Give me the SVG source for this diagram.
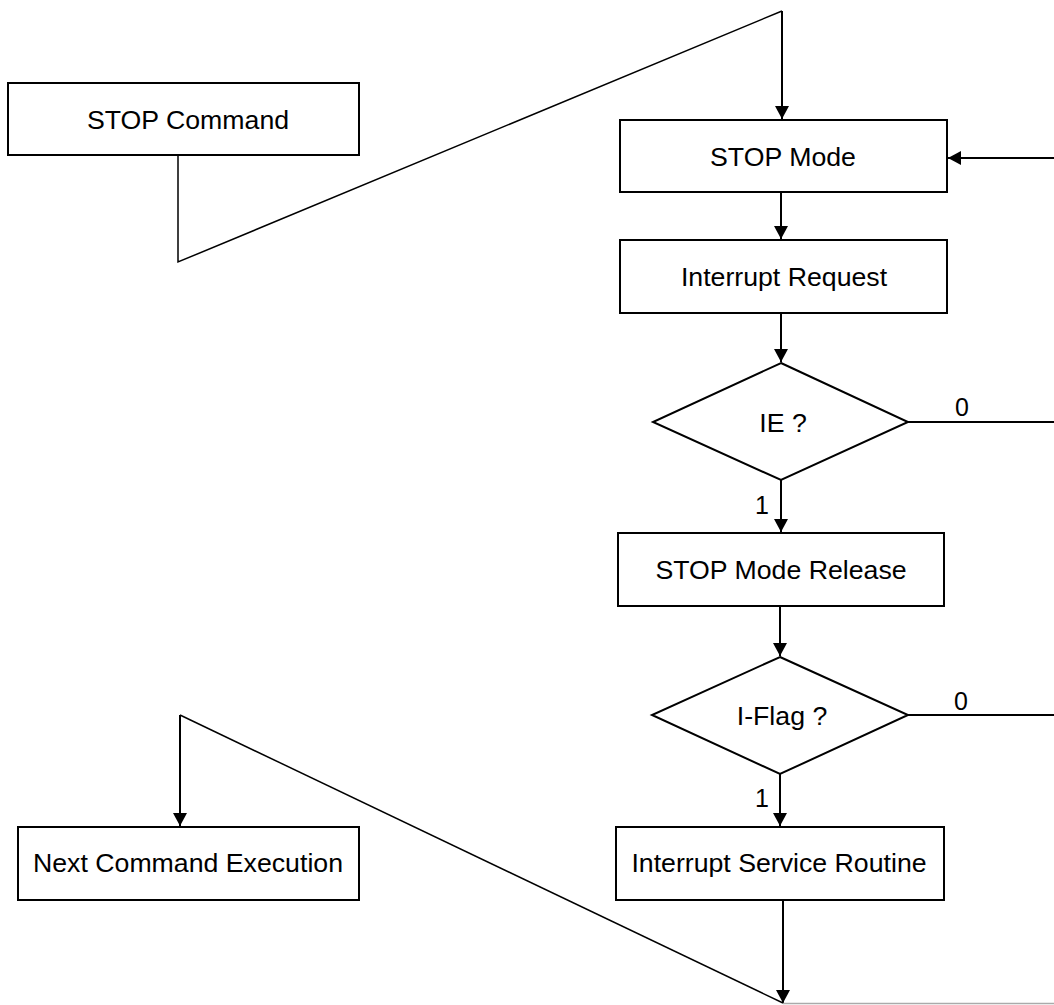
<svg xmlns="http://www.w3.org/2000/svg" width="1054" height="1005" viewBox="0 0 1054 1005">
<style>
.box{fill:#fff;stroke:#000;stroke-width:2}
.lbl{font-family:"Liberation Sans",Arial,sans-serif;font-size:26.7px;fill:#000;text-anchor:middle}
.sm{font-family:"Liberation Sans",Arial,sans-serif;font-size:25px;fill:#000;text-anchor:middle}
.ln{fill:none;stroke:#000;stroke-width:2}
.thin{fill:none;stroke:#000;stroke-width:1.5}
</style>
<defs>
<marker id="ah" markerWidth="16" markerHeight="14" refX="13" refY="7" orient="auto" markerUnits="userSpaceOnUse">
<path d="M0,0 L13,7 L0,14 Z" fill="#000"/>
</marker>
</defs>
<rect x="0" y="0" width="1054" height="1005" fill="#fff"/>
<g id="connectors">
<polyline class="thin" points="178,155 178,262 782,11"/>
<line class="ln" x1="782" y1="11" x2="782" y2="119" marker-end="url(#ah)"/>
<line class="ln" x1="1054" y1="158" x2="948" y2="158" marker-end="url(#ah)"/>
<line class="ln" x1="781" y1="192" x2="781" y2="239" marker-end="url(#ah)"/>
<line class="ln" x1="781" y1="313" x2="781" y2="362" marker-end="url(#ah)"/>
<line class="ln" x1="908" y1="422" x2="1054" y2="422"/>
<text class="sm" x="962" y="416">0</text>
<line class="ln" x1="781" y1="480" x2="781" y2="532" marker-end="url(#ah)"/>
<text class="sm" x="762" y="514">1</text>
<line class="ln" x1="780" y1="606" x2="780" y2="656" marker-end="url(#ah)"/>
<line class="ln" x1="908" y1="715" x2="1054" y2="715"/>
<text class="sm" x="961" y="710">0</text>
<line class="ln" x1="780" y1="774" x2="780" y2="826" marker-end="url(#ah)"/>
<text class="sm" x="762" y="807">1</text>
<line class="ln" x1="783" y1="900" x2="783" y2="1003" marker-end="url(#ah)"/>
<polyline class="thin" points="783,1003 180,715"/>
<line class="ln" x1="180" y1="715" x2="180" y2="826" marker-end="url(#ah)"/>
<line x1="783" y1="1003.5" x2="1054" y2="1003.5" stroke="#aaa" stroke-width="1.5"/>
</g>
<g id="stop-command">
<rect class="box" x="8" y="83" width="351" height="72"/>
<text class="lbl" x="188" y="129">STOP Command</text>
</g>
<g id="stop-mode">
<rect class="box" x="620" y="120" width="327" height="72"/>
<text class="lbl" x="783" y="166">STOP Mode</text>
</g>
<g id="interrupt-request">
<rect class="box" x="620" y="240" width="327" height="73"/>
<text class="lbl" x="784" y="286">Interrupt Request</text>
</g>
<g id="ie">
<polygon class="box" points="781,363 908,422 781,480 653,422"/>
<text class="lbl" x="783" y="432">IE ?</text>
</g>
<g id="stop-mode-release">
<rect class="box" x="618" y="533" width="326" height="73"/>
<text class="lbl" x="781" y="579">STOP Mode Release</text>
</g>
<g id="i-flag">
<polygon class="box" points="780,657 908,715 780,774 652,715"/>
<text class="lbl" x="782" y="725">I-Flag ?</text>
</g>
<g id="isr">
<rect class="box" x="616" y="827" width="328" height="73"/>
<text class="lbl" x="779" y="872">Interrupt Service Routine</text>
</g>
<g id="next-command">
<rect class="box" x="18" y="827" width="341" height="73"/>
<text class="lbl" x="188" y="872">Next Command Execution</text>
</g>
</svg>
